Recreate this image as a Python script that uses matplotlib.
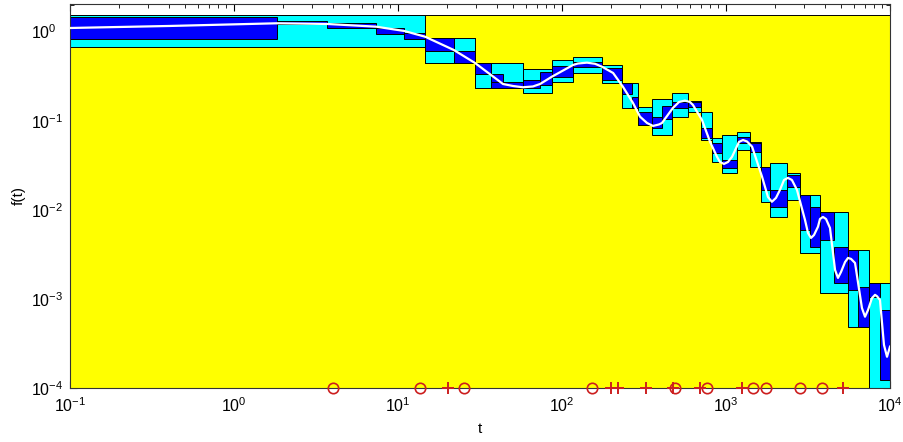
import matplotlib
matplotlib.use("Agg")
import matplotlib.pyplot as plt
from matplotlib.patches import Rectangle
from matplotlib.ticker import LogLocator, LogFormatterSciNotation

plt.rcParams['font.family'] = ['Liberation Sans', 'DejaVu Sans']
plt.rcParams['mathtext.fontset'] = 'custom'
plt.rcParams['mathtext.rm'] = 'Liberation Sans'
plt.rcParams['mathtext.it'] = 'Liberation Sans:italic'

# white curve f(t)
curve_t = [0.1, 0.407, 1.83, 3.69, 7.35, 10.9, 14.6, 21.9, 29.5, 36.9, 43.7, 50.3, 57.8,
           66.5, 73.5, 86.9, 117, 125, 142, 159, 175, 205, 235, 271, 299, 330, 359, 390,
           407, 475, 517, 562, 603, 629, 714, 799, 881, 919, 972, 1029, 1089, 1200, 1270,
           1343, 1442, 1659, 1803, 1906, 2018, 2133, 2259, 2387, 2523, 2710, 3033, 3162,
           3298, 3441, 3639, 3742, 3901, 4074, 4307, 4624, 4818, 5025, 5320, 5546, 5786,
           6121, 6745, 7043, 7345, 7765, 8107, 8337, 8689, 9191, 9591, 10000]
curve_f = [1.097, 1.156, 1.239, 1.217, 1.135, 1.016, 0.877, 0.621, 0.444, 0.326, 0.258, 0.245,
           0.237, 0.242, 0.258, 0.312, 0.422, 0.438, 0.448, 0.435, 0.404, 0.343, 0.241, 0.158,
           0.111, 0.0942, 0.0873, 0.0906, 0.0942, 0.139, 0.162, 0.168, 0.162, 0.150, 0.1018,
           0.0581, 0.0394, 0.0344, 0.0327, 0.0344, 0.0394, 0.0577, 0.0607, 0.0584, 0.0511,
           0.0235, 0.0139, 0.0123, 0.0136, 0.0167, 0.0216, 0.0228, 0.0216, 0.0167, 0.00768,
           0.00549, 0.00483, 0.00521, 0.00646, 0.00788, 0.00831, 0.00788, 0.00625, 0.00211,
           0.00172, 0.00200, 0.00259, 0.00288, 0.00281, 0.00253, 0.00079, 0.000631, 0.00075,
           0.00102, 0.00111, 0.00107, 0.000972, 0.000304, 0.000224, 0.000291]

# outer (discarded) region
yellow_box = (0.1, 1e4, 1e-5, 1.535)

# cyan boxes: t_lo, t_hi, f_lo, f_hi
cyan_boxes = [
    (0.1, 14.6, 0.672, 1.535),
    (14.6, 29.5, 0.444, 0.847),
    (14.6, 21.9, 0.444, 0.605),
    (21.9, 29.5, 0.605, 0.847),
    (29.5, 57.8, 0.233, 0.448),
    (29.5, 36.9, 0.233, 0.334),
    (36.9, 57.8, 0.274, 0.448),
    (57.8, 86.9, 0.203, 0.378),
    (86.9, 117, 0.274, 0.480),
    (117, 175, 0.346, 0.523),
    (175, 232, 0.263, 0.422),
    (232, 291, 0.138, 0.263),
    (291, 354, 0.0895, 0.144),
    (354, 469, 0.0691, 0.174),
    (469, 587, 0.111, 0.206),
    (587, 704, 0.126, 0.168),
    (704, 822, 0.0607, 0.126),
    (822, 946, 0.0347, 0.0640),
    (946, 1167, 0.0259, 0.0691),
    (1167, 1400, 0.0469, 0.0753),
    (1400, 1634, 0.0305, 0.0581),
    (1634, 1855, 0.0123, 0.0305),
    (1855, 2355, 0.00837, 0.0335),
    (2355, 2826, 0.0129, 0.0259),
    (2826, 3742, 0.00325, 0.0147),
    (3742, 5546, 0.00116, 0.00952),
    (5546, 7447, 0.000488, 0.00354),
    (7447, 10000, 1e-5, 0.00151),
]

# blue boxes (contain the curve)
blue_boxes = [
    (0.1, 1.83, 0.826, 1.458),
    (1.83, 3.69, 1.217, 1.315),
    (3.69, 7.35, 1.089, 1.239),
    (7.35, 10.9, 0.946, 1.106),
    (10.9, 14.6, 0.826, 0.972),
    (14.6, 21.9, 0.605, 0.847),
    (21.9, 29.5, 0.444, 0.605),
    (29.5, 36.9, 0.334, 0.448),
    (36.9, 43.7, 0.274, 0.334),
    (36.9, 57.8, 0.233, 0.274),
    (57.8, 73.5, 0.233, 0.286),
    (73.5, 86.9, 0.252, 0.352),
    (86.9, 117, 0.312, 0.411),
    (117, 175, 0.404, 0.460),
    (175, 232, 0.286, 0.390),
    (232, 267, 0.20, 0.263),
    (267, 291, 0.138, 0.186),
    (291, 354, 0.0895, 0.126),
    (354, 407, 0.0828, 0.111),
    (407, 469, 0.105, 0.145),
    (469, 587, 0.138, 0.163),
    (587, 704, 0.144, 0.163),
    (704, 822, 0.0640, 0.0828),
    (822, 946, 0.0434, 0.0562),
    (946, 1167, 0.0294, 0.0362),
    (1167, 1400, 0.0562, 0.0656),
    (1400, 1634, 0.0446, 0.0562),
    (1634, 1855, 0.0167, 0.0305),
    (1855, 2355, 0.0108, 0.0167),
    (2355, 2826, 0.0182, 0.0246),
    (2826, 3252, 0.00593, 0.0147),
    (3252, 3742, 0.00385, 0.0108),
    (3742, 4557, 0.00458, 0.00952),
    (4557, 5546, 0.00151, 0.00385),
    (5546, 6378, 0.00126, 0.00354),
    (6378, 7447, 0.000488, 0.00137),
    (7447, 8689, 0.00106, 0.00151),
    (8689, 10000, 0.000123, 0.000750),
]

# sample points on the t axis
circle_t = [4.02, 13.6, 25.3, 152, 489, 766, 1462, 1754, 2826, 3847]
plus_t = [20.2, 199, 219, 325, 475, 694, 1253, 5164]
f_floor = 1e-4

fig = plt.figure(figsize=(9.04, 4.42), dpi=100)
ax = fig.add_axes([0.0774, 0.1222, 0.9071, 0.8688])
ax.set_xscale('log')
ax.set_yscale('log')
ax.set_axisbelow(True)


def add_box(b, color):
    t0, t1, f0, f1 = b
    ax.add_patch(Rectangle((t0, f0), t1 - t0, f1 - f0, facecolor=color,
                           edgecolor='black', linewidth=0.7))


add_box(yellow_box, '#ffff00')
for b in cyan_boxes:
    add_box(b, '#00ffff')
for b in blue_boxes:
    add_box(b, '#0000ff')

ax.plot(curve_t, curve_f, color='white', lw=1.6, zorder=3)

ax.plot(circle_t, [f_floor] * len(circle_t), 'o', ms=7.5, mfc='none', mec='#cc1f1f',
        mew=1.2, clip_on=False, zorder=4)
ax.plot(plus_t, [f_floor] * len(plus_t), '+', ms=9, mec='#cc1f1f',
        mew=1.4, clip_on=False, zorder=4)

ax.set_xlim(0.1, 1e4)
ax.set_ylim(1e-4, 2.04)
ax.xaxis.set_major_locator(LogLocator(base=10, numticks=10))
ax.yaxis.set_major_locator(LogLocator(base=10, numticks=10))
ax.xaxis.set_major_formatter(LogFormatterSciNotation())
ax.yaxis.set_major_formatter(LogFormatterSciNotation())
ax.tick_params(which='both', direction='in', top=True, right=True, labelsize=11.5)
ax.tick_params(which='major', length=5)
ax.tick_params(which='minor', length=3)
ax.tick_params(axis='x', pad=6)
ax.tick_params(axis='y', pad=28)
plt.setp(ax.get_yticklabels(), ha='left')
for s in ax.spines.values():
    s.set_linewidth(0.8)
    s.set_color('#333333')

ax.set_xlabel('t', fontsize=11, labelpad=5)
ax.set_ylabel('f(t)', fontsize=11, labelpad=4)

fig.savefig('out.png', dpi=100)
